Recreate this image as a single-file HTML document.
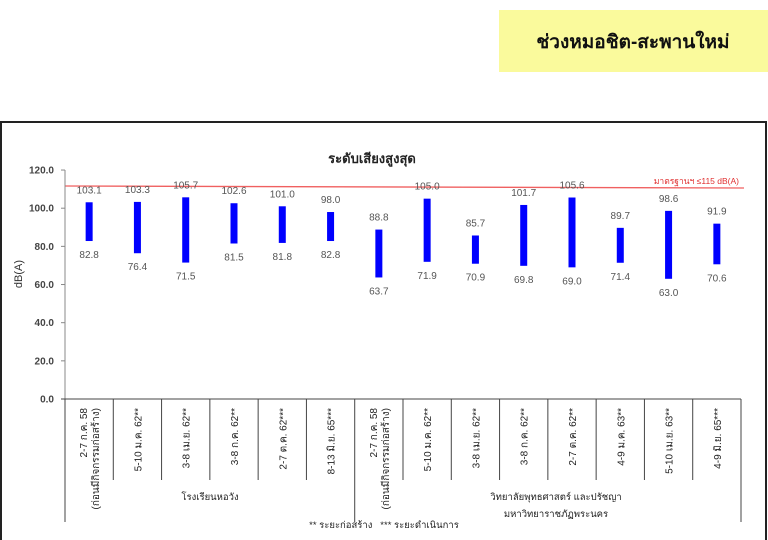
<!DOCTYPE html>
<html><head><meta charset="utf-8"><style>
html,body{margin:0;padding:0;background:#fff;width:768px;height:540px;overflow:hidden}
svg{display:block}
text{font-family:"Liberation Sans","Noto Sans CJK SC",sans-serif}
</style></head><body>
<svg id="s" width="768" height="540" xmlns="http://www.w3.org/2000/svg">
<rect x="499" y="10" width="269" height="62" fill="#fafa9c"/>
<text x="633" y="48" font-size="19" font-weight="bold" text-anchor="middle" fill="#111">ช่วงหมอชิต-สะพานใหม่</text>
<rect x="1" y="122" width="765" height="420" fill="#fff" stroke="#222" stroke-width="2"/>
<text x="372" y="163" font-size="13" font-weight="bold" text-anchor="middle" fill="#222">ระดับเสียงสูงสุด</text>
<text x="22" y="274" font-size="11" text-anchor="middle" fill="#333" transform="rotate(-90 22 274)">dB(A)</text>
<line x1="65" y1="186" x2="744" y2="188" stroke="#f06060" stroke-width="1.3"/>
<text x="739" y="184" font-size="8.5" text-anchor="end" fill="#e03030">มาตรฐานฯ ≤115 dB(A)</text>
<g id="g"></g>
<text x="210" y="500" font-size="9.5" text-anchor="middle" fill="#222">โรงเรียนหอวัง</text>
<text x="556" y="500" font-size="9.5" text-anchor="middle" fill="#222">วิทยาลัยพุทธศาสตร์ และปรัชญา</text>
<text x="556" y="517" font-size="9.5" text-anchor="middle" fill="#222">มหาวิทยาราชภัฏพระนคร</text>
<text x="384" y="528" font-size="9.5" text-anchor="middle" fill="#222">** ระยะก่อสร้าง&#160;&#160;&#160;*** ระยะดำเนินการ</text>
</svg>
<script>
var g=document.getElementById('g'),h='';
function Y(v){return 399-v*1.908;}
for(var i=0;i<=6;i++){var v=i*20,y=Y(v);h+='<line x1="61" y1="'+y+'" x2="65" y2="'+y+'" stroke="#888"/>';
h+='<text x="54" y="'+(y+3.5)+'" font-size="10" font-weight="bold" text-anchor="end" fill="#444">'+v.toFixed(1)+'</text>';}
h+='<line x1="65" y1="170" x2="65" y2="399" stroke="#888"/><line x1="61" y1="399" x2="741" y2="399" stroke="#444"/>';
var mx=[103.1,103.3,105.7,102.6,101.0,98.0,88.8,105.0,85.7,101.7,105.6,89.7,98.6,91.9];
var mn=[82.8,76.4,71.5,81.5,81.8,82.8,63.7,71.9,70.9,69.8,69.0,71.4,63.0,70.6];
var cat=['2-7 ก.ค. 58','5-10 ม.ค. 62**','3-8 เม.ย. 62**','3-8 ก.ค. 62**','2-7 ต.ค. 62***','8-13 มิ.ย. 65***','2-7 ก.ค. 58','5-10 ม.ค. 62**','3-8 เม.ย. 62**','3-8 ก.ค. 62**','2-7 ต.ค. 62**','4-9 ม.ค. 63**','5-10 เม.ย. 63**','4-9 มิ.ย. 65***'];
var w=676/14;
for(var i=0;i<=14;i++){var x=65+i*w;var long=(i==0||i==6||i==14);
h+='<line x1="'+x+'" y1="399" x2="'+x+'" y2="'+(long?522:480)+'" stroke="#444"/>';}
for(var i=0;i<14;i++){var c=65+(i+0.5)*w,t=Y(mx[i]),b=Y(mn[i]);
h+='<rect x="'+(c-3.5)+'" y="'+t+'" width="7" height="'+(b-t)+'" fill="#0000ff"/>';
h+='<text x="'+c+'" y="'+(t-9)+'" font-size="10" text-anchor="middle" fill="#555">'+mx[i].toFixed(1)+'</text>';
h+='<text x="'+c+'" y="'+(b+17)+'" font-size="10" text-anchor="middle" fill="#555">'+mn[i].toFixed(1)+'</text>';
if(i==0||i==6){
h+='<text transform="translate('+(c-2)+',408) rotate(-90)" font-size="10" text-anchor="end" fill="#222">'+cat[i]+'</text>';
h+='<text transform="translate('+(c+10)+',408) rotate(-90)" font-size="10" text-anchor="end" fill="#222">(ก่อนมีกิจกรรมก่อสร้าง)</text>';
}else{
h+='<text transform="translate('+(c+4)+',408) rotate(-90)" font-size="10" text-anchor="end" fill="#222">'+cat[i]+'</text>';}
}
g.innerHTML=h;
</script>
</body></html>
